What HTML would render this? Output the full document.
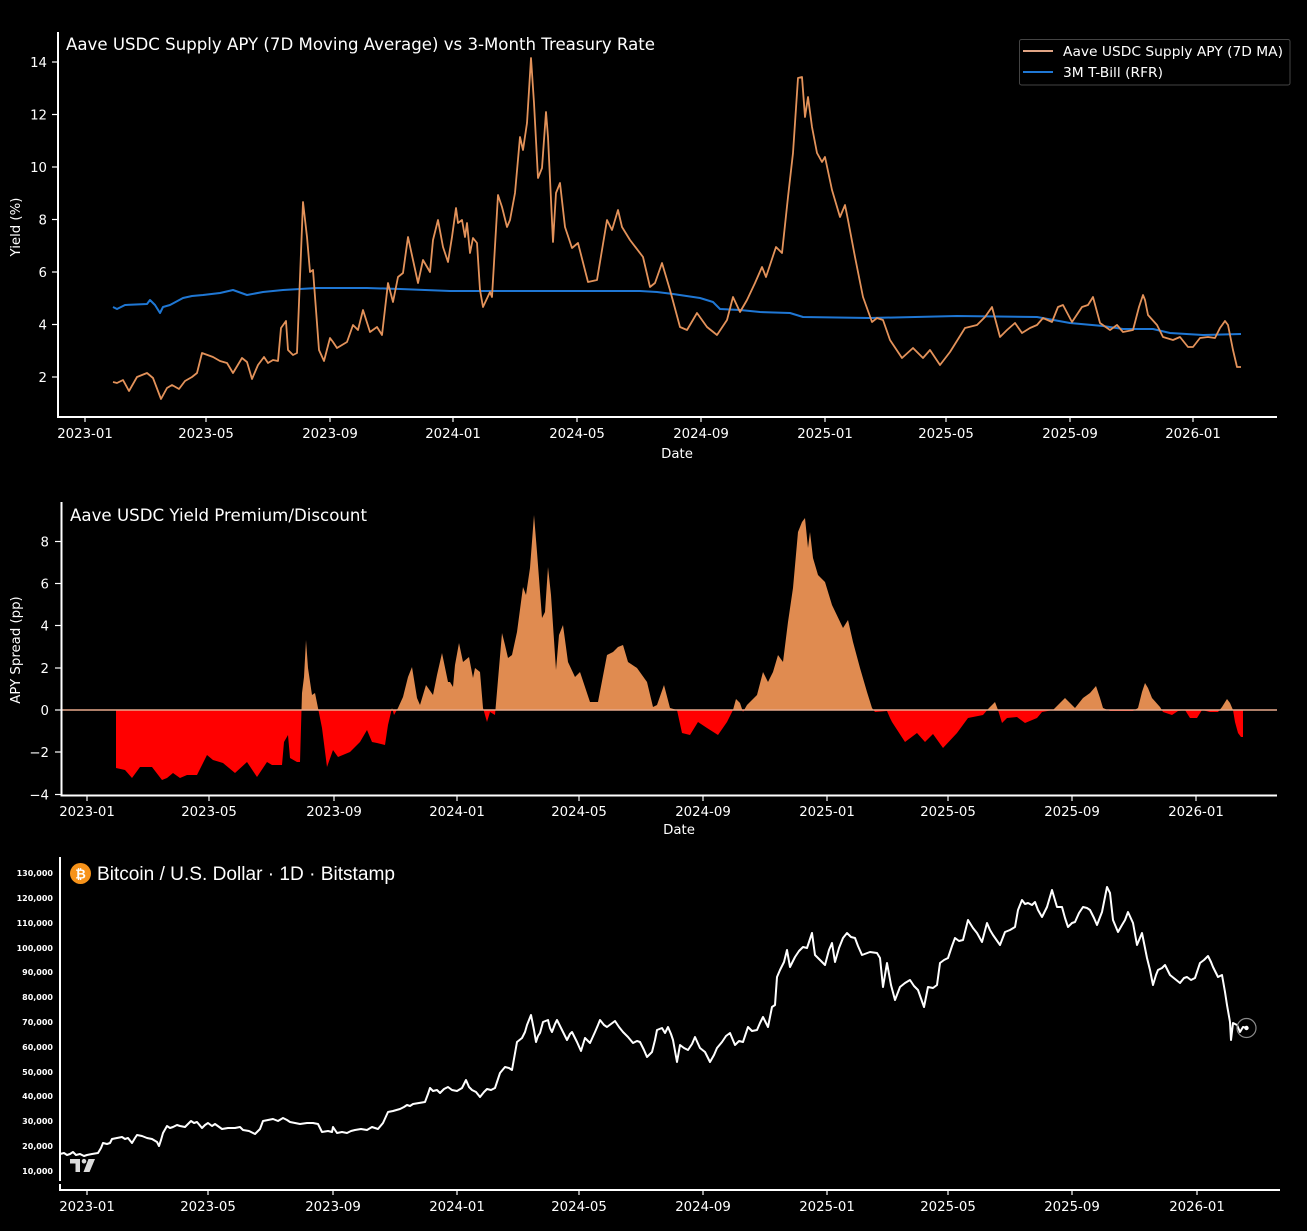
<!DOCTYPE html>
<html><head><meta charset="utf-8"><style>
html,body{margin:0;padding:0;background:#000;}
svg{display:block;}
text{font-family:"DejaVu Sans","Liberation Sans",sans-serif;fill:#fff;}
</style></head><body>
<svg width="1307" height="1231" viewBox="0 0 1307 1231" xmlns="http://www.w3.org/2000/svg">
<rect width="1307" height="1231" fill="#000"/>
<defs>
<clipPath id="above"><rect x="0" y="480" width="1307" height="230"/></clipPath>
<clipPath id="below"><rect x="0" y="710" width="1307" height="100"/></clipPath>
</defs>

<!-- ============ PANEL 1 ============ -->
<g stroke="#fff" stroke-width="2" fill="none">
<line x1="58" y1="32" x2="58" y2="417"/>
<line x1="57" y1="417" x2="1277" y2="417"/>
</g>
<g stroke="#fff" stroke-width="1.2">
<line x1="52" y1="62" x2="58" y2="62"/><line x1="52" y1="114.5" x2="58" y2="114.5"/><line x1="52" y1="167" x2="58" y2="167"/><line x1="52" y1="219.5" x2="58" y2="219.5"/><line x1="52" y1="272" x2="58" y2="272"/><line x1="52" y1="324.5" x2="58" y2="324.5"/><line x1="52" y1="377" x2="58" y2="377"/>
<line x1="85" y1="417" x2="85" y2="422"/><line x1="206" y1="417" x2="206" y2="422"/><line x1="330" y1="417" x2="330" y2="422"/><line x1="453" y1="417" x2="453" y2="422"/><line x1="577" y1="417" x2="577" y2="422"/><line x1="701" y1="417" x2="701" y2="422"/><line x1="825" y1="417" x2="825" y2="422"/><line x1="946" y1="417" x2="946" y2="422"/><line x1="1070" y1="417" x2="1070" y2="422"/><line x1="1193" y1="417" x2="1193" y2="422"/>
</g>
<g font-size="13.3" text-anchor="end">
<text x="47" y="67">14</text><text x="47" y="119.5">12</text><text x="47" y="172">10</text><text x="47" y="224.5">8</text><text x="47" y="277">6</text><text x="47" y="329.5">4</text><text x="47" y="382">2</text>
</g>
<g font-size="13.3" text-anchor="middle">
<text x="85" y="438">2023-01</text><text x="206" y="438">2023-05</text><text x="330" y="438">2023-09</text><text x="453" y="438">2024-01</text><text x="577" y="438">2024-05</text><text x="701" y="438">2024-09</text><text x="825" y="438">2025-01</text><text x="946" y="438">2025-05</text><text x="1070" y="438">2025-09</text><text x="1193" y="438">2026-01</text>
<text x="677" y="458">Date</text>
</g>
<text x="20" y="227" font-size="13.3" text-anchor="middle" transform="rotate(-90 20 227)">Yield (%)</text>
<text x="66" y="50" font-size="17" textLength="589" lengthAdjust="spacingAndGlyphs">Aave USDC Supply APY (7D Moving Average) vs 3-Month Treasury Rate</text>

<polyline fill="none" stroke="#1f77d4" stroke-width="2" stroke-linejoin="round" points="113,307 117,309 125,305 147,304 150,300 155,305 160,313 163,307 170,305 183,298 192,296 203,295 220,293 233,290 247,295 263,292 283,290 317,288 367,288 400,289 450,291 640,291 657,292 673,294 700,298 713,302 720,309 740,310 760,312 790,313 803,317 870,318 957,316 1037,317 1070,323 1103,326 1123,329 1153,329 1170,333 1203,335 1241,334"/>

<polyline fill="none" stroke="#e3925a" stroke-width="1.8" stroke-linejoin="round" points="113,382 117,383 123,380 129,391 137,377 147,373 153,378 161,399 167,388 172,385 179,389 185,381 192,377 197,373 202,353 213,357 220,361 227,363 233,373 242,358 247,362 252,379 258,365 264,357 268,363 273,360 278,361 281,328 286,321 288,350 293,355 297,353 303,202 307,237 310,272 313,270 319,350 324,361 330,338 333,342 337,348 347,342 353,325 358,330 363,310 370,332 377,327 382,335 388,283 393,302 398,277 403,273 408,237 413,260 418,283 423,260 430,272 433,240 438,220 443,247 448,262 452,237 456,208 458,223 462,220 465,237 467,223 470,253 473,238 477,243 480,290 483,307 490,292 492,297 498,195 502,207 507,227 510,220 515,193 520,137 523,150 527,123 531,58 534,103 538,178 542,168 546,112 548,137 553,242 556,193 560,183 565,227 572,248 578,243 588,282 597,280 607,220 612,230 618,210 622,227 630,240 643,257 650,287 655,283 662,263 670,290 680,327 687,330 697,313 707,327 717,335 727,320 733,297 740,312 747,300 755,283 762,267 766,277 770,265 776,247 782,253 788,197 793,153 798,78 802,77 805,117 808,97 812,127 817,153 822,162 825,157 832,190 840,217 845,205 848,220 855,257 863,297 872,322 877,318 883,320 890,340 902,358 913,348 923,358 930,350 940,365 950,352 965,328 977,325 985,317 992,307 1000,337 1007,330 1015,323 1022,333 1030,328 1037,325 1043,318 1052,322 1058,307 1063,305 1072,322 1082,307 1088,305 1093,297 1100,323 1110,330 1117,325 1123,332 1133,330 1139,307 1143,295 1145,300 1148,315 1157,325 1163,337 1173,340 1180,337 1188,347 1193,347 1200,338 1208,337 1215,338 1220,328 1225,321 1228,325 1233,350 1237,367 1241,367"/>

<!-- legend -->
<rect x="1019.5" y="39.5" width="270.5" height="45.5" rx="2" fill="#000" stroke="#444" stroke-width="1"/>
<line x1="1023" y1="51" x2="1053" y2="51" stroke="#e0a484" stroke-width="2"/>
<line x1="1023" y1="72" x2="1053" y2="72" stroke="#1f77d4" stroke-width="2"/>
<text x="1063" y="56" font-size="13" textLength="220" lengthAdjust="spacingAndGlyphs">Aave USDC Supply APY (7D MA)</text>
<text x="1063" y="77" font-size="13" textLength="100" lengthAdjust="spacingAndGlyphs">3M T-Bill (RFR)</text>

<!-- ============ PANEL 2 ============ -->
<g id="spread">
<polygon clip-path="url(#above)" fill="#e08b50" points="116,710 116,768 125,770 132,778 140,767 152,767 162,780 167,778 173,773 180,778 187,775 197,775 202,765 207,755 213,760 223,763 235,773 247,762 257,777 267,762 272,765 282,765 284,742 288,735 290,758 297,762 300,762 302,693 304,677 306,640 308,668 312,695 315,693 318,708 322,728 327,767 333,750 338,757 350,752 360,742 367,730 372,742 377,743 385,745 388,725 392,708 394,715 398,708 403,697 408,677 412,667 417,698 420,705 426,685 433,695 437,675 442,653 448,682 450,682 453,687 455,665 459,643 463,662 469,657 473,678 475,668 480,672 483,708 487,722 490,712 495,715 502,633 505,645 508,658 512,655 517,632 523,587 526,595 530,568 534,515 537,552 542,618 545,612 548,567 551,595 556,670 559,635 563,625 568,662 575,677 580,672 590,702 598,702 607,655 613,652 618,647 623,645 628,662 637,668 647,682 653,707 657,705 664,685 670,708 677,710 682,733 690,735 698,722 707,728 718,735 727,722 733,710 736,699 740,703 743,712 747,705 757,695 763,672 768,682 773,672 778,655 783,662 788,622 793,588 798,532 802,522 805,518 808,548 810,532 813,558 818,575 825,582 832,605 843,628 848,620 853,642 860,668 867,692 872,708 875,712 887,711 890,718 892,722 905,742 917,733 925,742 933,734 943,748 957,733 968,718 983,715 989,708 995,702 998,710 1002,723 1007,718 1017,717 1025,723 1037,718 1042,712 1053,710 1065,698 1070,703 1075,708 1083,698 1090,693 1096,686 1100,698 1103,708 1110,711 1120,711 1133,711 1138,708 1142,692 1145,683 1148,688 1152,698 1160,707 1163,712 1172,715 1178,711 1185,710 1190,718 1197,718 1202,710 1210,712 1218,712 1222,707 1227,699 1230,703 1233,710 1235,722 1238,733 1241,737 1243,737 1243,710"/>
<polygon clip-path="url(#below)" fill="#ff0000" points="116,710 116,768 125,770 132,778 140,767 152,767 162,780 167,778 173,773 180,778 187,775 197,775 202,765 207,755 213,760 223,763 235,773 247,762 257,777 267,762 272,765 282,765 284,742 288,735 290,758 297,762 300,762 302,693 304,677 306,640 308,668 312,695 315,693 318,708 322,728 327,767 333,750 338,757 350,752 360,742 367,730 372,742 377,743 385,745 388,725 392,708 394,715 398,708 403,697 408,677 412,667 417,698 420,705 426,685 433,695 437,675 442,653 448,682 450,682 453,687 455,665 459,643 463,662 469,657 473,678 475,668 480,672 483,708 487,722 490,712 495,715 502,633 505,645 508,658 512,655 517,632 523,587 526,595 530,568 534,515 537,552 542,618 545,612 548,567 551,595 556,670 559,635 563,625 568,662 575,677 580,672 590,702 598,702 607,655 613,652 618,647 623,645 628,662 637,668 647,682 653,707 657,705 664,685 670,708 677,710 682,733 690,735 698,722 707,728 718,735 727,722 733,710 736,699 740,703 743,712 747,705 757,695 763,672 768,682 773,672 778,655 783,662 788,622 793,588 798,532 802,522 805,518 808,548 810,532 813,558 818,575 825,582 832,605 843,628 848,620 853,642 860,668 867,692 872,708 875,712 887,711 890,718 892,722 905,742 917,733 925,742 933,734 943,748 957,733 968,718 983,715 989,708 995,702 998,710 1002,723 1007,718 1017,717 1025,723 1037,718 1042,712 1053,710 1065,698 1070,703 1075,708 1083,698 1090,693 1096,686 1100,698 1103,708 1110,711 1120,711 1133,711 1138,708 1142,692 1145,683 1148,688 1152,698 1160,707 1163,712 1172,715 1178,711 1185,710 1190,718 1197,718 1202,710 1210,712 1218,712 1222,707 1227,699 1230,703 1233,710 1235,722 1238,733 1241,737 1243,737 1243,710"/>
</g>
<line x1="62" y1="710" x2="1277" y2="710" stroke="#e8a98c" stroke-width="1.6"/>
<g stroke="#fff" stroke-width="2" fill="none">
<line x1="61.5" y1="502" x2="61.5" y2="796"/>
<line x1="60.5" y1="795.5" x2="1277" y2="795.5"/>
</g>
<g stroke="#fff" stroke-width="1.2">
<line x1="55" y1="541.5" x2="61" y2="541.5"/><line x1="55" y1="583.5" x2="61" y2="583.5"/><line x1="55" y1="625.5" x2="61" y2="625.5"/><line x1="55" y1="668" x2="61" y2="668"/><line x1="55" y1="710" x2="61" y2="710"/><line x1="55" y1="752" x2="61" y2="752"/><line x1="55" y1="794.5" x2="61" y2="794.5"/>
<line x1="87" y1="796" x2="87" y2="801"/><line x1="209" y1="796" x2="209" y2="801"/><line x1="334" y1="796" x2="334" y2="801"/><line x1="457" y1="796" x2="457" y2="801"/><line x1="579" y1="796" x2="579" y2="801"/><line x1="703" y1="796" x2="703" y2="801"/><line x1="827" y1="796" x2="827" y2="801"/><line x1="948" y1="796" x2="948" y2="801"/><line x1="1072" y1="796" x2="1072" y2="801"/><line x1="1196" y1="796" x2="1196" y2="801"/>
</g>
<g font-size="13.3" text-anchor="end">
<text x="49" y="546.5">8</text><text x="49" y="588.5">6</text><text x="49" y="630.5">4</text><text x="49" y="673">2</text><text x="49" y="715">0</text><text x="49" y="757">−2</text><text x="49" y="799.5">−4</text>
</g>
<g font-size="13.3" text-anchor="middle">
<text x="87" y="816">2023-01</text><text x="209" y="816">2023-05</text><text x="334" y="816">2023-09</text><text x="457" y="816">2024-01</text><text x="579" y="816">2024-05</text><text x="703" y="816">2024-09</text><text x="827" y="816">2025-01</text><text x="948" y="816">2025-05</text><text x="1072" y="816">2025-09</text><text x="1196" y="816">2026-01</text>
<text x="679" y="834">Date</text>
</g>
<text x="20" y="650" font-size="13.3" text-anchor="middle" transform="rotate(-90 20 650)">APY Spread (pp)</text>
<text x="70" y="521" font-size="17" textLength="297" lengthAdjust="spacingAndGlyphs">Aave USDC Yield Premium/Discount</text>

<!-- ============ PANEL 3 ============ -->
<g stroke="#fff" stroke-width="2" fill="none">
<line x1="60" y1="857" x2="60" y2="1181"/>
<line x1="60" y1="1184" x2="60" y2="1190"/>
<line x1="59" y1="1190" x2="1280" y2="1190"/>
</g>
<g stroke="#fff" stroke-width="1.2">
<line x1="87" y1="1190" x2="87" y2="1195"/><line x1="208" y1="1190" x2="208" y2="1195"/><line x1="333" y1="1190" x2="333" y2="1195"/><line x1="457" y1="1190" x2="457" y2="1195"/><line x1="579" y1="1190" x2="579" y2="1195"/><line x1="703" y1="1190" x2="703" y2="1195"/><line x1="827" y1="1190" x2="827" y2="1195"/><line x1="948" y1="1190" x2="948" y2="1195"/><line x1="1072" y1="1190" x2="1072" y2="1195"/><line x1="1197" y1="1190" x2="1197" y2="1195"/>
</g>
<g font-size="13.3" text-anchor="middle">
<text x="87" y="1211">2023-01</text><text x="208" y="1211">2023-05</text><text x="333" y="1211">2023-09</text><text x="457" y="1211">2024-01</text><text x="579" y="1211">2024-05</text><text x="703" y="1211">2024-09</text><text x="827" y="1211">2025-01</text><text x="948" y="1211">2025-05</text><text x="1072" y="1211">2025-09</text><text x="1197" y="1211">2026-01</text>
</g>
<g font-size="8" font-weight="bold" text-anchor="end" style="font-family:'Liberation Sans',sans-serif;">
<text x="53" y="876" fill="#d6d6d6">130,000</text>
<text x="53" y="901" fill="#d6d6d6">120,000</text>
<text x="53" y="926" fill="#d6d6d6">110,000</text>
<text x="53" y="951" fill="#d6d6d6">100,000</text>
<text x="53" y="975" fill="#d6d6d6">90,000</text>
<text x="53" y="1000" fill="#d6d6d6">80,000</text>
<text x="53" y="1025" fill="#d6d6d6">70,000</text>
<text x="53" y="1050" fill="#d6d6d6">60,000</text>
<text x="53" y="1075" fill="#d6d6d6">50,000</text>
<text x="53" y="1099" fill="#d6d6d6">40,000</text>
<text x="53" y="1124" fill="#d6d6d6">30,000</text>
<text x="53" y="1149" fill="#d6d6d6">20,000</text>
<text x="53" y="1174" fill="#d6d6d6">10,000</text>
</g>
<circle cx="80.5" cy="873.5" r="10.5" fill="#f7931a"/>
<text x="80.5" y="878.5" font-size="13" font-weight="bold" text-anchor="middle" style="font-family:'DejaVu Sans',sans-serif;" fill="#fff">₿</text>
<text x="97" y="880" font-size="19" textLength="298" lengthAdjust="spacingAndGlyphs" style="font-family:'Liberation Sans',sans-serif;" fill="#d4d4d4">Bitcoin / U.S. Dollar · 1D · Bitstamp</text>

<!-- TradingView logo -->
<g fill="#dcdcdc">
<polygon points="70,1159 80,1159 80,1172 75.5,1172 75.5,1163.5 70,1163.5"/>
<circle cx="84" cy="1161.2" r="2.3"/>
<polygon points="88.5,1159 95,1159 89.5,1172 83.5,1172"/>
</g>

<polyline fill="none" stroke="#fff" stroke-width="2" stroke-linejoin="round" points="60,1154 64,1153 67,1155 70,1154 73,1152 76,1155 80,1154 84,1156 87,1155 92,1154 98,1153 101,1148 103,1143 107,1144 110,1143 112,1139 117,1138 122,1137 125,1139 128,1138 132,1143 135,1138 137,1135 142,1136 147,1138 152,1139 157,1142 159,1146 161,1140 163,1133 167,1126 170,1128 173,1127 177,1125 180,1126 185,1127 188,1124 191,1121 194,1123 197,1122 202,1128 205,1125 208,1123 212,1126 215,1124 222,1129 228,1128 235,1128 240,1127 243,1130 249,1131 255,1134 260,1129 263,1121 268,1120 273,1119 278,1121 283,1118 287,1120 290,1122 295,1123 300,1124 307,1123 313,1123 318,1124 322,1132 328,1131 332,1132 333,1127 337,1133 342,1132 347,1133 351,1131 355,1130 361,1129 367,1130 372,1127 378,1129 383,1123 388,1112 393,1111 400,1109 404,1107 407,1105 410,1106 413,1104 419,1103 425,1102 428,1094 430,1088 433,1091 437,1090 440,1093 444,1089 448,1087 452,1090 457,1091 462,1088 466,1080 469,1087 472,1090 476,1092 480,1097 484,1092 487,1089 491,1090 495,1088 500,1073 505,1067 509,1068 512,1070 517,1042 522,1038 525,1032 527,1025 531,1015 534,1030 536,1042 538,1036 540,1033 543,1022 548,1020 550,1028 552,1032 555,1024 557,1020 562,1030 565,1036 567,1040 570,1034 572,1032 577,1042 581,1051 585,1038 590,1043 595,1032 598,1025 600,1020 604,1025 607,1027 611,1024 615,1021 619,1027 623,1032 628,1037 633,1043 637,1041 640,1042 644,1050 647,1057 652,1052 655,1040 657,1030 662,1028 665,1033 668,1027 671,1034 673,1040 677,1062 680,1045 684,1048 688,1050 692,1044 695,1037 700,1048 705,1052 710,1062 714,1055 717,1048 722,1042 726,1036 730,1033 735,1045 739,1041 743,1042 748,1027 752,1031 757,1030 760,1023 763,1017 768,1027 772,1007 775,1005 777,977 780,970 784,962 787,950 790,967 795,957 799,951 803,947 807,948 812,933 815,955 820,960 825,965 829,950 832,943 835,962 839,948 843,938 847,933 851,937 855,938 858,946 862,955 870,952 877,953 880,958 883,987 887,963 891,985 895,1000 900,987 905,983 910,980 914,986 918,990 924,1007 928,987 933,988 937,985 940,963 944,960 948,958 952,946 955,938 959,941 963,940 968,920 973,928 977,933 982,942 987,923 990,930 993,935 1000,945 1005,932 1010,930 1015,927 1018,910 1022,900 1025,904 1028,903 1032,905 1035,902 1038,910 1042,917 1047,907 1052,890 1057,907 1062,907 1065,918 1068,927 1072,923 1075,922 1079,913 1083,907 1087,908 1090,910 1094,918 1097,925 1102,912 1105,897 1107,887 1110,893 1113,920 1118,932 1122,925 1125,920 1128,912 1133,923 1137,945 1142,933 1147,958 1150,970 1153,985 1156,975 1158,970 1162,968 1165,965 1170,975 1175,979 1180,983 1184,978 1187,977 1191,980 1195,978 1200,963 1204,960 1208,956 1211,962 1213,967 1218,977 1222,975 1225,992 1227,1005 1230,1022 1231,1040 1233,1023 1237,1025 1240,1032 1243,1027 1247,1028"/>
<circle cx="1246.5" cy="1028" r="9.5" fill="none" stroke="#8a8a8a" stroke-width="1.2"/>
<circle cx="1246.5" cy="1028" r="2.2" fill="#fff"/>
</svg>
</body></html>
